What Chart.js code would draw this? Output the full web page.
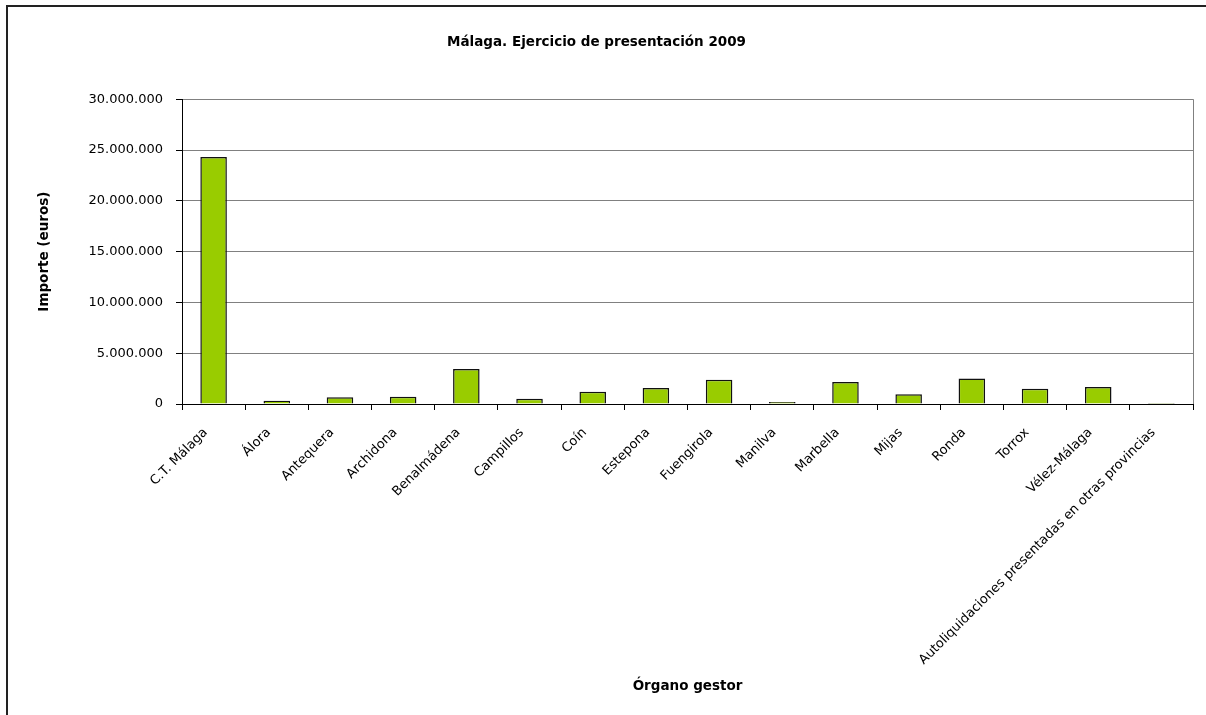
<!DOCTYPE html>
<html>
<head>
<meta charset="utf-8">
<script src="https://cdn.jsdelivr.net/npm/chart.js@4"></script>
<style>
  html, body { margin: 0; padding: 0; background: #fff; }
  canvas { display: block; }
</style>
</head>
<body>
<canvas id="grafico" width="1206" height="715"></canvas>
<script>
// datos (euros)
const organos = [
    'C.T. Málaga', 'Álora', 'Antequera', 'Archidona', 'Benalmádena', 'Campillos',
    'Coín', 'Estepona', 'Fuengirola', 'Manilva', 'Marbella', 'Mijas', 'Ronda',
    'Torrox', 'Vélez-Málaga', 'Autoliquidaciones presentadas en otras provincias'
];
const importes = [
    24300000, 330000, 660000, 720000, 3440000, 520000,
    1210000, 1570000, 2390000, 200000, 2160000, 950000, 2520000,
    1500000, 1670000, 110000
];
const tituloGrafico = 'Málaga. Ejercicio de presentación 2009';
const tituloY = 'Importe (euros)';
const tituloX = 'Órgano gestor';

const fuente = 'DejaVu Sans';

function puntos(v){
    return String(v).replace(/\B(?=(\d{3})+(?!\d))/g, '.');
}

// marco exterior y borde del área de trazado
const marco = {
    id: 'marco',
    afterDraw(chart){
        const ctx = chart.ctx;
        const a = chart.chartArea;
        ctx.save();
        ctx.strokeStyle = '#808080';
        ctx.lineWidth = 1;
        ctx.beginPath();
        ctx.moveTo(Math.round(a.right) + 0.5, a.top);
        ctx.lineTo(Math.round(a.right) + 0.5, a.bottom);
        ctx.stroke();
        ctx.strokeStyle = '#222';
        ctx.lineWidth = 2;
        ctx.beginPath();
        ctx.moveTo(7, 715);
        ctx.lineTo(7, 6);
        ctx.lineTo(1206, 6);
        ctx.stroke();
        ctx.restore();
    }
};

new Chart(document.querySelector('#grafico').getContext('2d'), {
    type: 'bar',
    data: {
        labels: organos,
        datasets: [{
            data: importes,
            backgroundColor: '#99CC00',
            borderColor: '#111',
            borderWidth: 1.5,
            borderSkipped: 'start',
            categoryPercentage: 1,
            barPercentage: 0.42
        }]
    },
    options: {
        responsive: false,
        animation: false,
        layout: { padding: { left: 0, right: 13, top: 0, bottom: 0 } },
        plugins: {
            legend: { display: false },
            tooltip: { enabled: false },
            title: {
                display: true,
                text: tituloGrafico,
                color: '#000',
                font: { family: fuente, size: 13.5, weight: 'bold' },
                padding: { top: 34, bottom: 49 }
            }
        },
        scales: {
            x: {
                grid: {
                    offset: true,
                    drawOnChartArea: false,
                    tickLength: 6,
                    color: '#000',
                    tickColor: '#000'
                },
                border: { color: '#000', width: 1 },
                ticks: {
                    autoSkip: false,
                    minRotation: 45,
                    maxRotation: 45,
                    padding: 15,
                    labelOffset: -8,
                    color: '#000',
                    font: { family: fuente, size: 13 }
                },
                title: {
                    display: true,
                    text: tituloX,
                    color: '#000',
                    font: { family: fuente, size: 13.5, weight: 'bold' },
                    padding: { top: 0, bottom: 20 }
                },
                afterFit(scale){ scale.height = 311; }
            },
            y: {
                min: 0,
                max: 30000000,
                grid: {
                    color: '#808080',
                    tickColor: '#000',
                    tickLength: 6
                },
                border: { color: '#000', width: 1 },
                ticks: {
                    stepSize: 5000000,
                    padding: 13,
                    color: '#000',
                    font: { family: fuente, size: 13 },
                    callback: v => puntos(v)
                },
                title: {
                    display: true,
                    text: tituloY,
                    color: '#000',
                    font: { family: fuente, size: 13.5, weight: 'bold' },
                    padding: { top: 36, bottom: 0 }
                },
                afterFit(scale){ scale.width = 182; }
            }
        }
    },
    plugins: [marco]
});
</script>
</body>
</html>
